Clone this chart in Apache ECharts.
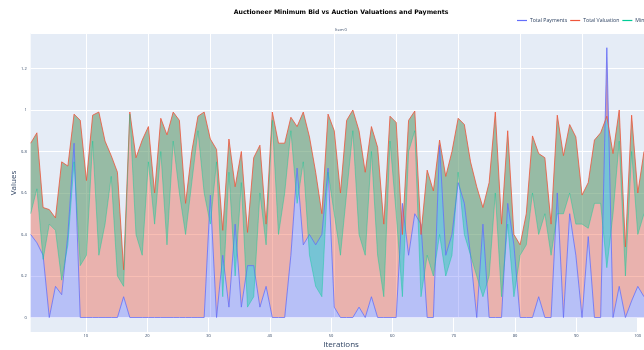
<!DOCTYPE html>
<html><head><meta charset="utf-8">
<script src="https://cdn.jsdelivr.net/npm/echarts@6/dist/echarts.min.js"></script>
<style>html,body{margin:0;padding:0;background:#fff}#chart{width:644px;height:350px}</style>
</head><body><div id="chart"></div>
<script>
// Iteration numbers on the x axis
const iterations = Array.from({length: 100}, (_, k) => String(k + 1));
const xTickLabels = ['10', '20', '30', '40', '50', '60', '70', '80', '90', '100'];

const totalPayments = [
  0.40, 0.36, 0.30, 0.00, 0.15, 0.11, 0.40, 0.84, 0.00, 0.00,
  0.00, 0.00, 0.00, 0.00, 0.00, 0.10, 0.00, 0.00, 0.00, 0.00,
  0.00, 0.00, 0.00, 0.00, 0.00, 0.00, 0.00, 0.00, 0.00, 0.59,
  0.00, 0.30, 0.05, 0.45, 0.05, 0.25, 0.25, 0.05, 0.15, 0.00,
  0.00, 0.00, 0.30, 0.72, 0.35, 0.40, 0.35, 0.40, 0.72, 0.05,
  0.00, 0.00, 0.00, 0.05, 0.00, 0.10, 0.00, 0.00, 0.00, 0.00,
  0.55, 0.30, 0.50, 0.45, 0.00, 0.00, 0.83, 0.30, 0.40, 0.65,
  0.55, 0.30, 0.00, 0.45, 0.00, 0.00, 0.00, 0.55, 0.35, 0.00,
  0.00, 0.00, 0.10, 0.00, 0.00, 0.60, 0.00, 0.50, 0.30, 0.00,
  0.39, 0.00, 0.00, 1.30, 0.00, 0.15, 0.00, 0.08, 0.15, 0.10
];
const totalValuation = [
  0.84, 0.89, 0.53, 0.52, 0.48, 0.75, 0.73, 0.98, 0.95, 0.66,
  0.975, 0.99, 0.85, 0.78, 0.70, 0.23, 0.99, 0.77, 0.855, 0.92,
  0.60, 0.96, 0.88, 0.99, 0.95, 0.55, 0.80, 0.97, 0.99, 0.86,
  0.81, 0.42, 0.86, 0.63, 0.80, 0.41, 0.77, 0.83, 0.45, 0.99,
  0.84, 0.84, 0.965, 0.92, 0.99, 0.87, 0.70, 0.50, 0.98, 0.90,
  0.60, 0.95, 1.00, 0.90, 0.70, 0.92, 0.82, 0.45, 0.97, 0.94,
  0.40, 0.95, 0.995, 0.40, 0.71, 0.61, 0.855, 0.68, 0.80, 0.96,
  0.93, 0.75, 0.63, 0.53, 0.65, 0.99, 0.45, 0.90, 0.40, 0.35,
  0.50, 0.875, 0.79, 0.77, 0.45, 0.975, 0.78, 0.93, 0.87, 0.59,
  0.65, 0.855, 0.89, 0.97, 0.79, 1.00, 0.34, 0.975, 0.60, 0.80
];
const minimumBid = [
  0.50, 0.62, 0.28, 0.45, 0.42, 0.18, 0.35, 0.75, 0.25, 0.30,
  0.85, 0.30, 0.45, 0.68, 0.20, 0.15, 0.98, 0.40, 0.30, 0.75,
  0.45, 0.80, 0.35, 0.85, 0.60, 0.40, 0.65, 0.90, 0.60, 0.45,
  0.75, 0.10, 0.70, 0.20, 0.65, 0.05, 0.10, 0.60, 0.35, 0.95,
  0.40, 0.60, 0.90, 0.55, 0.75, 0.30, 0.15, 0.10, 0.70, 0.50,
  0.30, 0.60, 0.90, 0.40, 0.30, 0.80, 0.30, 0.10, 0.85, 0.50,
  0.10, 0.80, 0.90, 0.10, 0.30, 0.20, 0.40, 0.20, 0.30, 0.70,
  0.40, 0.30, 0.20, 0.10, 0.20, 0.60, 0.10, 0.45, 0.10, 0.30,
  0.35, 0.60, 0.40, 0.50, 0.30, 0.50, 0.50, 0.60, 0.45, 0.45,
  0.43, 0.55, 0.55, 0.24, 0.50, 0.85, 0.20, 0.80, 0.40, 0.50
];

const C_PAY = '#636efa', C_VAL = '#EF553B', C_MIN = '#00cc96';
const FILL_PAY = 'rgba(99,110,250,0.5)', FILL_VAL = 'rgba(239,85,59,0.55)', FILL_MIN = 'rgba(0,204,150,0.5)';
const FONT = '"Open Sans", "Liberation Sans", sans-serif';
const TXT = '#2a3f5f';

// Bands: valuation is filled from payments up to valuation, minimum bid from valuation to minimum bid
const valBand = totalValuation.map((v, i) => v - totalPayments[i]);
const minBand = minimumBid.map((m, i) => m - totalValuation[i]);

const tenth = (idx, val) => Number(val) % 10 === 0;

const chart = echarts.init(document.getElementById('chart'), null, {renderer: 'canvas'});
const hidden = {symbol: 'none', lineStyle: {opacity: 0}, silent: true};

chart.setOption({
  animation: false,
  backgroundColor: '#ffffff',
  textStyle: {fontFamily: FONT},
  title: [
    {text: 'Auctioneer Minimum Bid vs Auction Valuations and Payments', left: 341, top: 9.5, textAlign: 'center', padding: 0,
     textStyle: {fontFamily: '"DejaVu Sans", sans-serif', fontWeight: 'bold', fontSize: 6.2, color: '#000'}},
    {text: 'Item 0', left: 341, top: 28, textAlign: 'center', padding: 0,
     textStyle: {fontFamily: FONT, fontWeight: 'normal', fontSize: 4, color: TXT}}
  ],
  legend: {
    data: ['Total Payments', 'Total Valuation', 'Minimum Bid'],
    left: 517, top: 18, width: 400, padding: 0, orient: 'horizontal',
    icon: 'rect', itemWidth: 10, itemHeight: 1.2, itemGap: 3,
    textStyle: {fontSize: 5.2, color: TXT, fontFamily: FONT, padding: [0, 0, 0, -2]}
  },
  grid: [
    {left: 30.7, width: 620, top: 33, bottom: 32.5, show: true, backgroundColor: '#E5ECF6', borderWidth: 0},
    {left: 30.7, width: 620, top: 317.5, height: 14.5, show: true, backgroundColor: '#E5ECF6', borderWidth: 0}
  ],
  xAxis: [
    {type: 'category', gridIndex: 0, data: iterations, boundaryGap: false,
     axisLine: {show: false}, axisTick: {show: false},
     axisLabel: {show: false},
     splitLine: {show: true, interval: tenth, lineStyle: {color: '#ffffff', width: 1}}},
    {type: 'category', gridIndex: 1, data: iterations, boundaryGap: false,
     axisLine: {show: false}, axisTick: {show: false},
     axisLabel: {show: true, interval: tenth, fontSize: 4, color: TXT, margin: 2, fontFamily: FONT,
       formatter: v => xTickLabels.includes(v) ? v : ''},
     splitLine: {show: true, interval: tenth, lineStyle: {color: '#ffffff', width: 1}}}
  ],
  yAxis: [
    {type: 'value', gridIndex: 0, min: 0, max: 1.371, interval: 0.2,
     axisLine: {show: false}, axisTick: {show: false},
     axisLabel: {fontSize: 4, color: TXT, margin: 4, showMaxLabel: false, fontFamily: FONT},
     splitLine: {show: true, lineStyle: {color: '#ffffff', width: 1}}},
    {type: 'value', gridIndex: 1, min: 0, max: 1, show: false}
  ],
  graphic: [
    {type: 'text', rotation: Math.PI / 2, z: 10, x: 14, y: 183,
     style: {text: 'Values', fontSize: 8, fill: TXT, fontFamily: FONT, align: 'center', verticalAlign: 'middle'}},
    {type: 'text', x: 341, y: 345, z: 10,
     style: {text: 'Iterations', fontSize: 8, fill: TXT, fontFamily: FONT, align: 'center', verticalAlign: 'middle'}}
  ],
  series: [
    {name: 'Total Payments', type: 'line', data: totalPayments, symbol: 'none',
     lineStyle: {color: C_PAY, width: 0.8}, itemStyle: {color: C_PAY}, areaStyle: {color: FILL_PAY, origin: 'start'}},
    Object.assign({name: 'valuation-base', type: 'line', data: totalPayments, stack: 'val', stackStrategy: 'all'}, hidden),
    {name: 'Total Valuation', type: 'line', data: valBand, stack: 'val', stackStrategy: 'all', symbol: 'none',
     lineStyle: {color: C_VAL, width: 0.8}, itemStyle: {color: C_VAL}, areaStyle: {color: FILL_VAL}},
    Object.assign({name: 'minimum-base', type: 'line', data: totalValuation, stack: 'min', stackStrategy: 'all'}, hidden),
    {name: 'Minimum Bid', type: 'line', data: minBand, stack: 'min', stackStrategy: 'all', symbol: 'none',
     lineStyle: {color: C_MIN, width: 0.6, opacity: 0.7}, itemStyle: {color: C_MIN}, areaStyle: {color: FILL_MIN}}
  ]
});
</script>
</body></html>
